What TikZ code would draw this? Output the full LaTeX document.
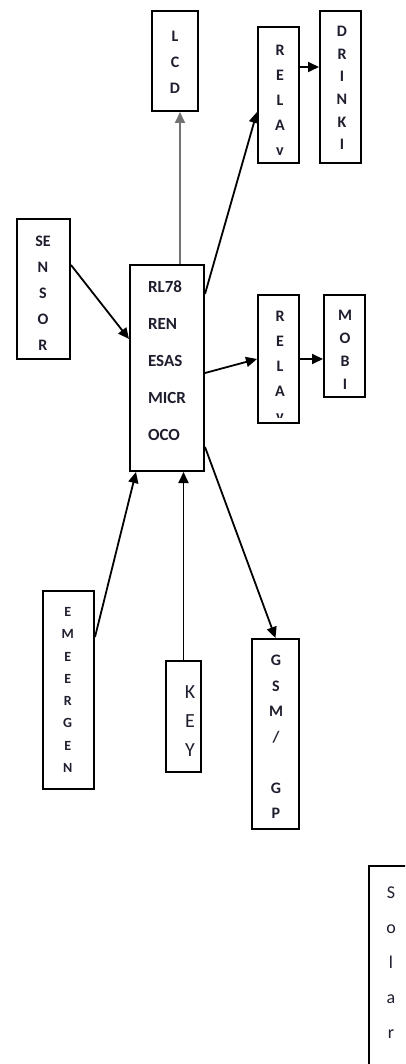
\documentclass[tikz,border=0pt]{standalone}
\usepackage{fontspec}
\setmainfont{Carlito}
\usetikzlibrary{arrows.meta}
\definecolor{ink}{HTML}{1E1E2E}
\begin{document}
\begin{tikzpicture}[x=1pt,y=-1pt,
  box/.style={draw=black,line width=2pt,rectangle,inner sep=0pt},
  lbl/.style={text=ink,inner sep=0pt,align=center,font=\bfseries\fontsize{16}{#1}\selectfont},
  lbl/.default=26,
  arr/.style={draw=black,line width=1.8pt,-{Triangle[length=11pt,width=10pt]}},
  garr/.style={arr,draw=black!55}]
\clip (0,0) rectangle (405,1064);
\fill[white] (0,0) rectangle (405,1064);
% boxes
\node[box,minimum width=46pt,minimum height=100pt] (lcd) at (175,61) {};
\node[box,minimum width=41pt,minimum height=136pt] (relay1) at (278.5,95) {};
\node[box,minimum width=41pt,minimum height=152pt] (drinki) at (340.5,87) {};
\node[box,minimum width=53pt,minimum height=140pt] (sensor) at (43.5,289) {};
\node[box,minimum width=74pt,minimum height=206pt] (mcu) at (167,368) {};
\node[box,minimum width=41pt,minimum height=128pt,
  path picture={
    \clip ([yshift=5.5pt]path picture bounding box.south west) rectangle (path picture bounding box.north east);
    \node[lbl=25] (relay2txt) at ([xshift=1.5pt,yshift=-7pt]path picture bounding box.center) {R\\E\\L\\A\\v};}] (relay2) at (278.5,359) {};
\node[box,minimum width=41pt,minimum height=102pt] (mobi) at (344.5,346) {};
\node[box,minimum width=51pt,minimum height=198pt] (emergen) at (68.5,690) {};
\node[box,minimum width=35pt,minimum height=111pt] (key) at (183.5,716.5) {};
\node[box,minimum width=47pt,minimum height=190pt] (gsm) at (275.5,734) {};
\node[box,anchor=north west,minimum width=60pt,minimum height=260pt] (solar) at (368,865) {};
% labels
\node[lbl=26] (lcdt) at (175,62) {L\\C\\D};
\node[lbl=25] (relay1t) at (280,100) {R\\E\\L\\A\\v};
\node[lbl=22.6] (drinkit) at (342,88) {D\\R\\I\\N\\K\\I};
\node[lbl=26] (sensort) at (43,293) {SE\\N\\S\\O\\R};
\node[lbl=37,align=left,font=\bfseries\fontsize{17}{37}\selectfont] (mcut) at (167,361) {RL78\\REN\\ESAS\\MICR\\OCO};
\node[lbl=23] (mobit) at (345,350) {M\\O\\B\\I};
\node[lbl=22.3,font=\bfseries\fontsize{14}{22.3}\selectfont] (emergent) at (67.7,690) {E\\M\\E\\E\\R\\G\\E\\N};
\node[lbl,font=\fontsize{20}{29}\selectfont] (keyt) at (190,721) {K\\E\\Y};
\node[lbl=25.5] (gsmt) at (276,737) {G\\S\\M\\/\\ \\G\\P};
\node[lbl,font=\fontsize{18}{35}\selectfont] (solart) at (391,963) {S\\o\\l\\a\\r};
% connectors
\coordinate (lcdx) at ([xshift=5pt]lcd.south);
\draw[garr] (lcdx |- mcu.north) -- (lcdx);
\draw[arr] ([yshift=24pt]sensor.east) -- ([yshift=29pt]mcu.west);
\draw[arr] ([yshift=74pt]mcu.east) -- ([yshift=-17pt]relay1.west);
\coordinate (r1d) at ([yshift=28pt]relay1.east);
\draw[arr] (r1d) -- (r1d -| drinki.west);
\draw[arr] ([yshift=-5pt]mcu.east) -- (relay2.west);
\draw[arr] (relay2.east) -- (relay2.east -| mobi.west);
\draw[arr] ([yshift=53pt]emergen.east) -- ([xshift=-31pt]mcu.south);
\draw[arr] (key.north) -- (key.north |- mcu.south);
\draw[arr] ([yshift=-79pt]mcu.east) -- (gsm.north);
\end{tikzpicture}
\end{document}
